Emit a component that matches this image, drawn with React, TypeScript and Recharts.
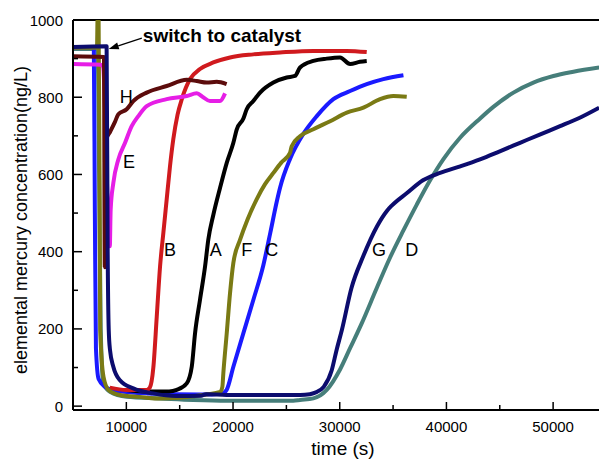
import React from 'react'
import { LineChart, Line, XAxis, YAxis, ReferenceLine, ReferenceDot } from 'recharts'

const FONT = '"Liberation Sans", Arial, Helvetica, sans-serif'

// curve A (black)
const aX = [10000, 12000, 14000, 14720, 15660, 16130, 16440, 16900, 17380, 17680, 18150, 18780, 19410, 20030, 20350, 20970, 21280, 21900, 22530, 23780, 25030, 25800, 26280, 27530, 28780, 30030, 30970, 31900, 32530]
const aY = [42, 38, 38, 42, 59, 102, 189, 275, 362, 431, 495, 565, 630, 682, 717, 745, 769, 790, 812, 838, 851, 855, 877, 894, 900, 903, 886, 892, 894]
// curve B (red)
const bX = [8450, 10000, 11900, 12200, 12530, 12850, 13160, 13470, 13780, 14090, 14400, 14800, 15200, 15970, 16900, 18150, 19720, 21900, 24400, 27530, 30660, 32530]
const bY = [48, 42, 42, 48, 100, 232, 362, 449, 535, 621, 691, 755, 795, 847, 873, 890, 903, 911, 916, 920, 920, 917]
// curve C (blue)
const cX = [5000, 6950, 7050, 7150, 7400, 8000, 9000, 12000, 17000, 19000, 19400, 20030, 20970, 21900, 22840, 23500, 24100, 24400, 25340, 26590, 27850, 29400, 30970, 32530, 34090, 35970]
const cY = [928, 930, 500, 150, 70, 50, 40, 33, 30, 33, 42, 102, 189, 275, 365, 450, 530, 565, 640, 705, 751, 795, 816, 834, 847, 857]
// curve D (teal)
const dX = [5000, 7300, 7450, 7600, 7840, 8470, 10030, 13150, 16280, 19400, 25650, 26280, 27530, 28780, 30030, 30970, 32070, 33470, 34720, 35970, 37220, 38470, 39720, 41280, 43160, 44400, 46280, 48150, 50030, 51900, 54313]
const dY = [925, 925, 600, 200, 59, 37, 24, 20, 16, 14, 14, 16, 20, 42, 95, 150, 215, 306, 385, 455, 522, 585, 640, 695, 745, 775, 812, 838, 855, 866, 877]
// curve E (magenta)
const eX = [5000, 7600, 7800, 8450, 8530, 8780, 9250, 9880, 10500, 11120, 11910, 13780, 15660, 16600, 17200, 17840, 18780, 19250]
const eY = [886, 884, 880, 414, 509, 578, 639, 682, 725, 751, 777, 795, 803, 810, 800, 790, 790, 810]
// curve F (olive)
const fX = [5000, 7250, 7300, 7400, 7500, 7550, 7860, 8330, 9400, 11250, 12900, 15000, 17500, 18800, 19000, 19090, 19410, 19720, 20030, 20660, 21350, 22200, 23000, 23780, 24500, 25340, 25500, 26280, 27530, 29100, 30660, 32220, 33780, 35030, 36280]
const fY = [928, 928, 1000, 1000, 500, 197, 76, 42, 29, 24, 20, 22, 30, 37, 50, 85, 189, 293, 371, 431, 483, 535, 575, 604, 630, 656, 673, 699, 717, 738, 760, 773, 795, 803, 801]
// curve G (navy)
const gX = [5000, 8150, 8250, 8350, 8470, 8780, 9400, 10650, 12500, 14700, 17000, 17500, 19400, 22500, 26300, 27200, 27700, 28500, 29250, 29700, 30200, 31100, 32200, 33500, 34400, 34900, 36300, 37800, 39400, 41300, 43150, 45000, 46900, 48800, 50650, 52500, 54313]
const gY = [930, 932, 400, 197, 145, 102, 67, 46, 33, 26, 27, 31, 29, 29, 29, 31, 35, 50, 93, 145, 197, 306, 388, 466, 505, 520, 552, 585, 604, 621, 639, 660, 682, 704, 725, 747, 773]
// curve H (dark red)
const hX = [5000, 7900, 7980, 8030, 8100, 8470, 8900, 9250, 10030, 10650, 11910, 13780, 15660, 16600, 17530, 18470, 19400]
const hY = [906, 904, 360, 650, 690, 710, 734, 756, 769, 790, 812, 829, 845, 842, 838, 840, 834]

const xTicks = [10000, 15000, 20000, 25000, 30000, 35000, 40000, 45000, 50000]
const yTicks = [0, 100, 200, 300, 400, 500, 600, 700, 800, 900, 1000]

const letters = ['H', 'E', 'B', 'A', 'F', 'C', 'G', 'D']
const letterX = [10000, 10250, 14100, 18380, 21280, 23630, 33690, 36750]
const letterY = [803, 634, 405, 405, 405, 405, 405, 405]

const zip = (xs: number[], ys: number[]) => xs.map((x, i) => ({ x, y: ys[i] }))

// back to front
const series = [
  { name: 'D', data: zip(dX, dY), color: '#467e7a' },
  { name: 'C', data: zip(cX, cY), color: '#1a1aff' },
  { name: 'A', data: zip(aX, aY), color: '#000000' },
  { name: 'B', data: zip(bX, bY), color: '#d01a1e' },
  { name: 'F', data: zip(fX, fY), color: '#7a7a14' },
  { name: 'E', data: zip(eX, eY), color: '#e61ee6' },
  { name: 'H', data: zip(hX, hY), color: '#5c0c0c' },
  { name: 'G', data: zip(gX, gY), color: '#0c0c6e' },
]

function XTick(props: any) {
  const { x, y, payload } = props
  const major = payload.value % 10000 === 0
  return (
    <g>
      <line x1={x} x2={x} y1={y} y2={y - (major ? 8 : 5)} stroke="#000" strokeWidth={1.5} />
      {major && (
        <text x={x} y={y + 22} textAnchor="middle" fontSize={15} fontFamily={FONT} fill="#000">
          {payload.value}
        </text>
      )}
    </g>
  )
}

function YTick(props: any) {
  const { x, y, payload } = props
  const major = payload.value % 200 === 0
  return (
    <g>
      <line x1={x} x2={x + (major ? 9 : 5)} y1={y} y2={y} stroke="#000" strokeWidth={1.5} />
      {major && (
        <text x={x - 10} y={y + 5.5} textAnchor="end" fontSize={15} fontFamily={FONT} fill="#000">
          {payload.value}
        </text>
      )}
    </g>
  )
}

function Arrow(props: any) {
  const { x1, y1, x2, y2 } = props
  const ang = Math.atan2(y2 - y1, x2 - x1)
  const len = 10
  const w = 3.5
  const bx = x2 - len * Math.cos(ang)
  const by = y2 - len * Math.sin(ang)
  const pts = `${x2},${y2} ${bx - w * Math.sin(ang)},${by + w * Math.cos(ang)} ${bx + w * Math.sin(ang)},${by - w * Math.cos(ang)}`
  return (
    <g>
      <line x1={x1} y1={y1} x2={bx} y2={by} stroke="#000" strokeWidth={1.2} />
      <polygon points={pts} fill="#000" />
      <text x={x1 + 1} y={y1 + 4} fontSize={19} fontWeight="bold" fontFamily={FONT} fill="#000">
        switch to catalyst
      </text>
    </g>
  )
}

export default function App() {
  return (
    <div style={{ position: 'absolute', left: 0, top: 0, background: '#fff' }}>
      <LineChart width={599} height={460} margin={{ top: 20, right: 0, bottom: 0, left: 0 }}>
        <XAxis
          type="number"
          dataKey="x"
          domain={[5000, 54300]}
          allowDataOverflow
          ticks={xTicks}
          interval={0}
          height={50}
          tickSize={0}
          tickMargin={0}
          tickLine={false}
          tick={<XTick />}
          axisLine={{ stroke: '#000', strokeWidth: 2 }}
        />
        <YAxis
          type="number"
          dataKey="y"
          domain={[-10, 1000]}
          allowDataOverflow
          ticks={yTicks}
          interval={0}
          width={73}
          tickSize={0}
          tickMargin={0}
          tickLine={false}
          tick={<YTick />}
          axisLine={{ stroke: '#000', strokeWidth: 2 }}
        />
        <ReferenceLine y={1000} stroke="#000" strokeWidth={2} />
        {series.map((s) => (
          <Line
            key={s.name}
            data={s.data}
            dataKey="y"
            type="monotone"
            stroke={s.color}
            strokeWidth={4}
            dot={false}
            isAnimationActive={false}
            strokeLinejoin="round"
          />
        ))}
        <ReferenceLine
          segment={[{ x: 11450, y: 953 }, { x: 8350, y: 925 }]}
          shape={(p: any) => <Arrow {...p} />}
        />
        {letters.map((t, i) => (
          <ReferenceDot
            key={t}
            x={letterX[i]}
            y={letterY[i]}
            r={0}
            shape={(p: any) => (
              <text x={p.cx} y={p.cy + 6.5} textAnchor="middle" fontSize={18} fontFamily={FONT} fill="#000">
                {t}
              </text>
            )}
          />
        ))}
        <text x={343} y={455} textAnchor="middle" fontSize={19} fontFamily={FONT} fill="#000">
          time (s)
        </text>
        <text
          x={27}
          y={220}
          transform="rotate(-90 27 220)"
          textAnchor="middle"
          fontSize={18}
          fontFamily={FONT}
          fill="#000"
        >
          elemental mercury concentration(ng/L)
        </text>
      </LineChart>
    </div>
  )
}
